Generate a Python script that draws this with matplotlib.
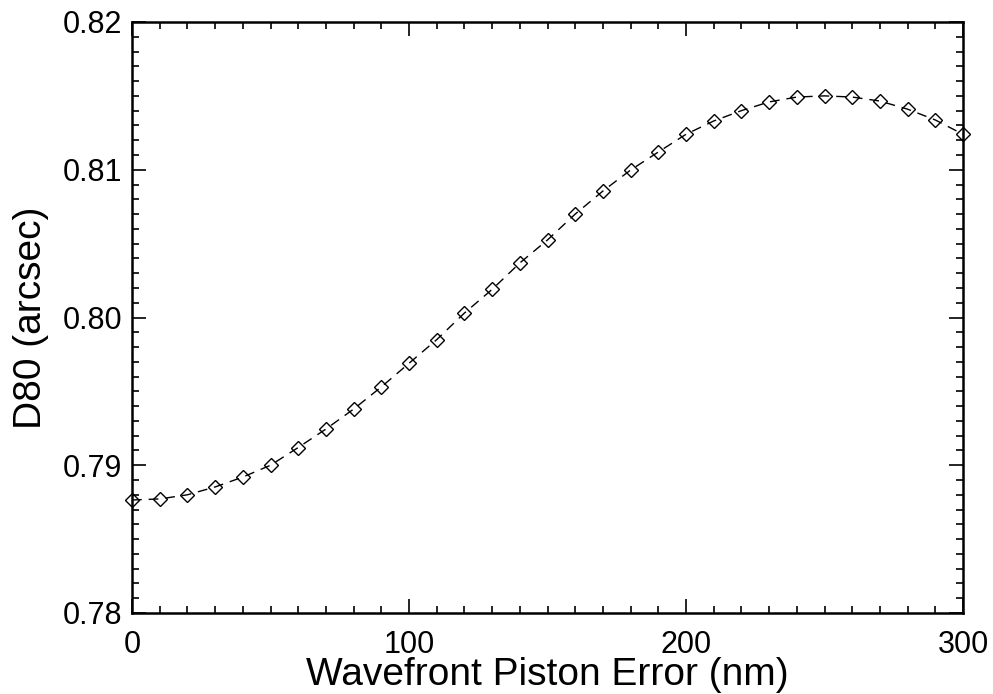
import matplotlib
matplotlib.use("Agg")
import matplotlib.pyplot as plt
from matplotlib.ticker import MultipleLocator, FormatStrFormatter

piston_nm = list(range(0, 301, 10))
d80_arcsec = [0.78765, 0.78772, 0.7880, 0.78853, 0.7892, 0.7900, 0.7912, 0.79245,
              0.7938, 0.7953, 0.7969, 0.7985, 0.8003, 0.8019, 0.80369, 0.80525,
              0.8070, 0.80856, 0.80998, 0.8112, 0.8124, 0.8133, 0.8140, 0.81459,
              0.81492, 0.8150, 0.81492, 0.81465, 0.8141, 0.81337, 0.8124]

plt.rcParams['font.family'] = ['Liberation Sans', 'DejaVu Sans']

fig = plt.figure(figsize=(9.93, 6.94), dpi=100)
ax = fig.add_axes([132/993, 1 - 613/694, 831/993, 591/694])

ax.plot(piston_nm, d80_arcsec, color='black', linestyle=(0, (7, 5)), linewidth=1.0,
        marker='D', markersize=7.5, fillstyle='none',
        markeredgecolor='black', markeredgewidth=1.0, clip_on=False)

ax.set_xlim(0, 300)
ax.set_ylim(0.78, 0.82)
ax.xaxis.set_major_locator(MultipleLocator(100))
ax.xaxis.set_minor_locator(MultipleLocator(10))
ax.yaxis.set_major_locator(MultipleLocator(0.01))
ax.yaxis.set_minor_locator(MultipleLocator(0.001))
ax.yaxis.set_major_formatter(FormatStrFormatter('%.2f'))

ax.tick_params(which='both', direction='in', top=True, right=True, width=1.2)
ax.tick_params(which='major', length=10, labelsize=22)
ax.tick_params(axis='x', which='major', pad=12)
ax.tick_params(axis='y', which='major', pad=7)
ax.tick_params(which='minor', length=5)
for s in ax.spines.values():
    s.set_linewidth(1.8)

ax.set_xlabel('Wavefront Piston Error (nm)', fontsize=28, labelpad=-2)
ax.set_ylabel('D80 (arcsec)', fontsize=28, labelpad=10)

fig.savefig('out.png', dpi=100)
